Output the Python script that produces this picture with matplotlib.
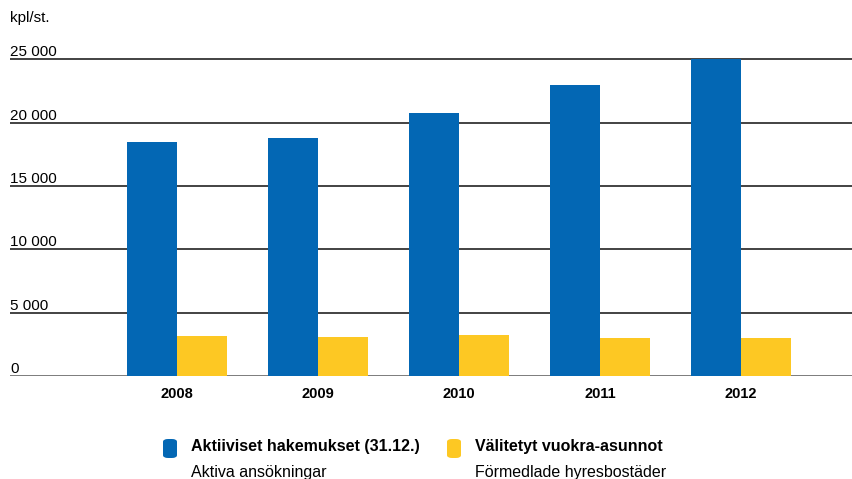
import numpy as np
import matplotlib.pyplot as plt
from matplotlib.patches import FancyBboxPatch
import matplotlib.transforms as mtransforms

plt.rcParams['font.family'] = ['Liberation Sans', 'DejaVu Sans']

# Data
years = ["2008", "2009", "2010", "2011", "2012"]
applications = [18480, 18800, 20770, 22990, 25040]
rentals = [3160, 3080, 3240, 3000, 3000]
yticks = [0, 5000, 10000, 15000, 20000, 25000]

blue = "#0367b4"
yellow = "#fdc823"

fig = plt.figure(figsize=(8.53, 4.79), dpi=100)
ax = fig.add_axes([10 / 853, 0.215, 843 / 853, 0.674])

x = np.arange(len(years))
w = 0.355
ax.bar(x - w / 2, applications, w, color=blue, zorder=3)
ax.bar(x + w / 2, rentals, w, color=yellow, zorder=3)

ax.set_xlim(-1.184, 4.794)
ax.set_ylim(0, 25500)

# gridlines + labels sitting on top of them
for v in yticks:
    ax.axhline(v, color="#555555" if v == 0 else "#222222",
               lw=1.8 if v == 0 else 1.2, zorder=1)
trans = mtransforms.blended_transform_factory(ax.transAxes, ax.transData)
for v in yticks:
    ax.text(0, v, f"{v:,}".replace(",", " "), transform=trans,
            ha="left", va="bottom", fontsize=11)

ax.set_yticks([])
ax.set_xticks(x)
ax.set_xticklabels(years, fontsize=10.5, fontweight="bold")
ax.tick_params(axis="x", length=0, pad=8)
for s in ax.spines.values():
    s.set_visible(False)

fig.text(10 / 853, 1 - 18 / 479, "kpl/st.", ha="left", va="center", fontsize=11)

# legend
items = [(163, blue, "Aktiiviset hakemukset (31.12.)", "Aktiva ansökningar"),
         (447, yellow, "Välitetyt vuokra-asunnot", "Förmedlade hyresbostäder")]
for px, col, l1, l2 in items:
    box = FancyBboxPatch((px / 853, 1 - 458 / 479), 14 / 853, 19 / 479,
                         boxstyle="round,pad=0,rounding_size=0.006",
                         transform=fig.transFigure, facecolor=col, edgecolor="none")
    fig.patches.append(box)
    fig.text((px + 28) / 853, 1 - 447 / 479, l1, ha="left", va="center",
             fontsize=11.5, fontweight="bold")
    fig.text((px + 28) / 853, 1 - 472 / 479, l2, ha="left", va="center",
             fontsize=11.5)

fig.savefig("out.png", dpi=100)
